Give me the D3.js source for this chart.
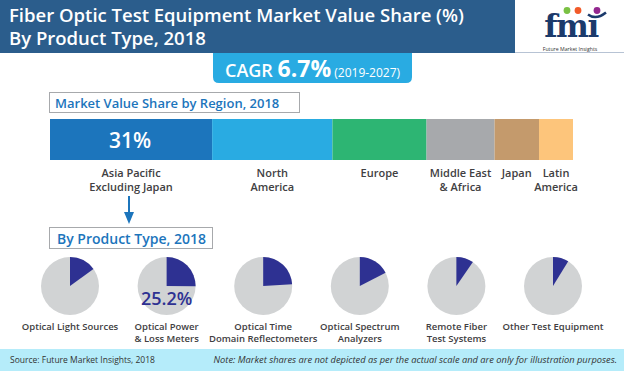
<!DOCTYPE html>
<html>
<head>
<meta charset="utf-8">
<script src="https://cdn.jsdelivr.net/npm/d3@7"></script>
<style>
  body { margin: 0; background: #fff; }
  svg { display: block; font-family: "Open Sans", sans-serif; }
</style>
</head>
<body>
<div id="chart"></div>
<script>
// region share (bar) - note says not to scale
var regions = ["Asia Pacific|Excluding Japan", "North|America", "Europe", "Middle East|& Africa", "Japan", "Latin|America"];
var regionShare = [31, 23, 18, 13, 8.5, 6.5];
var regionColors = ["#1c75bc", "#29abe2", "#2db573", "#a7a9ac", "#c49a6c", "#fdc57b"];

// product type pies
var products = ["Optical Light Sources", "Optical Power|& Loss Meters", "Optical Time|Domain Reflectometers", "Optical Spectrum|Analyzers", "Remote Fiber|Test Systems", "Other Test Equipment"];
var productShare = [15, 25.2, 24, 17.4, 9.6, 8.8];

var W = 624, H = 371;
var svg = d3.select("#chart").append("svg")
    .attr("width", W)
    .attr("height", H);

// header
svg.append("rect").attr("x", 0).attr("y", 0).attr("width", 515).attr("height", 53).attr("fill", "#2b5d8c");
svg.append("line").attr("x1", 515).attr("x2", W).attr("y1", 52.5).attr("y2", 52.5).attr("stroke", "#b7c3d4").attr("stroke-width", 1);
svg.append("text").attr("x", 9).attr("y", 22)
    .style("font-size", "18.5px").style("font-weight", 600).style("fill", "#fff")
    .text("Fiber Optic Test Equipment Market Value Share (%)");
svg.append("text").attr("x", 9).attr("y", 45)
    .style("font-size", "18.5px").style("font-weight", 600).style("fill", "#fff")
    .text("By Product Type, 2018");

// logo
var logo = svg.append("g");
logo.append("text").attr("x", 571).attr("y", 36.5).attr("text-anchor", "middle")
    .style("font-family", "'DejaVu Serif', serif").style("font-weight", "bold")
    .style("font-size", "31px").style("fill", "#1b3a6b").style("letter-spacing", "-1.5px")
    .text("fmi");
logo.append("rect").attr("x", 590).attr("y", 9).attr("width", 12).attr("height", 10).attr("fill", "#fff");
logo.append("circle").attr("cx", 567).attr("cy", 10.5).attr("r", 3.4).attr("fill", "#7ac143");
logo.append("circle").attr("cx", 578).attr("cy", 10.5).attr("r", 3.4).attr("fill", "#f15a29");
logo.append("circle").attr("cx", 597).attr("cy", 10.5).attr("r", 3.4).attr("fill", "#93278f");
logo.append("path").attr("d", "M588,14.5 Q596,20.5 606,12.5").attr("fill", "none").attr("stroke", "#1b3a6b").attr("stroke-width", 2.5);
logo.append("text").attr("x", 570).attr("y", 50.5).attr("text-anchor", "middle")
    .style("font-size", "5.2px").style("fill", "#333")
    .text("Future Market Insights");

// CAGR box
svg.append("path")
    .attr("d", "M213,53 H412 V77 Q412,83 406,83 H219 Q213,83 213,77 Z")
    .attr("fill", "#29abe2");
var cagr = svg.append("text").attr("x", 225).attr("y", 77).style("fill", "#fff");
cagr.append("tspan").style("font-size", "18px").style("font-weight", 600).text("CAGR ");
cagr.append("tspan").style("font-size", "23px").style("font-weight", "bold").text("6.7%");
cagr.append("tspan").style("font-size", "12px").text(" (2019-2027)");

// region title box
svg.append("rect").attr("x", 49.5).attr("y", 92.5).attr("width", 250).attr("height", 20)
    .attr("fill", "#fff").attr("stroke", "#a7a9ac");
svg.append("text").attr("x", 55).attr("y", 107.5)
    .style("font-size", "13px").style("font-weight", 600).style("fill", "#1c75bc")
    .text("Market Value Share by Region, 2018");

// stacked bar
var x = d3.scaleLinear().domain([0, d3.sum(regionShare)]).range([50, 573]);
var cum = d3.cumsum(regionShare);
var segs = regionShare.map(function (v, i) {
    return { name: regions[i], start: cum[i] - v, end: cum[i], value: v, color: regionColors[i] };
});
var barTop = 119, barH = 41;
svg.append("g").selectAll("rect").data(segs).enter().append("rect")
    .attr("x", function (d) { return x(d.start); })
    .attr("y", barTop)
    .attr("width", function (d) { return x(d.end) - x(d.start); })
    .attr("height", barH)
    .attr("fill", function (d) { return d.color; });

svg.append("text")
    .attr("x", (x(segs[0].start) + x(segs[0].end)) / 2 - 1)
    .attr("y", barTop + 29)
    .attr("text-anchor", "middle")
    .style("font-size", "21px").style("font-weight", 600).style("fill", "#fff")
    .text(segs[0].value + "%");

var labs = svg.append("g").selectAll("text").data(segs).enter().append("text")
    .attr("text-anchor", "middle")
    .attr("transform", function (d) { return "translate(" + ((x(d.start) + x(d.end)) / 2) + "," + (barTop + 58) + ")"; })
    .style("font-size", "11px").style("font-weight", 600).style("fill", "#414042");
labs.selectAll("tspan").data(function (d) { return d.name.split("|"); }).enter().append("tspan")
    .attr("x", 0).attr("dy", function (d, i) { return i ? 14 : 0; })
    .text(function (d) { return d; });

// arrow
svg.append("line").attr("x1", 129).attr("x2", 129).attr("y1", 196).attr("y2", 214)
    .attr("stroke", "#1c75bc").attr("stroke-width", 2);
svg.append("path").attr("d", "M124,212 L134,212 L129,224 Z").attr("fill", "#1c75bc");

// product title box
svg.append("rect").attr("x", 49.5).attr("y", 227.5).attr("width", 163).attr("height", 21)
    .attr("fill", "#fff").attr("stroke", "#a7a9ac");
svg.append("text").attr("x", 57).attr("y", 243.5)
    .style("font-size", "14px").style("font-weight", 600).style("fill", "#1c75bc")
    .text("By Product Type, 2018");

// pies
var px = d3.scalePoint().domain(products).range([70, 553]);
var pieY = 286, r = 29;
var arc = d3.arc().innerRadius(0).outerRadius(r);
var pies = svg.append("g").selectAll("g").data(products).enter().append("g")
    .attr("transform", function (d) { return "translate(" + px(d) + "," + pieY + ")"; });
pies.append("circle").attr("r", r).attr("fill", "#d1d3d4");
pies.append("path")
    .attr("d", function (d, i) { return arc({ startAngle: 0, endAngle: 2 * Math.PI * productShare[i] / 100 }); })
    .attr("fill", "#2e3192");
pies.filter(function (d, i) { return i === 1; }).append("text")
    .attr("y", 19).attr("text-anchor", "middle")
    .style("font-size", "18px").style("font-weight", 600).style("fill", "#2e3192")
    .text(function (d) { return productShare[products.indexOf(d)] + "%"; });

var plabs = pies.append("text").attr("text-anchor", "middle").attr("y", 44)
    .style("font-size", "9.5px").style("font-weight", 600).style("fill", "#414042");
plabs.selectAll("tspan").data(function (d) { return d.split("|"); }).enter().append("tspan")
    .attr("x", 0).attr("dy", function (d, i) { return i ? 11.5 : 0; })
    .text(function (d) { return d; });

// footer
svg.append("rect").attr("x", 0).attr("y", 349).attr("width", W).attr("height", H - 349).attr("fill", "#b5ecfa");
svg.append("text").attr("x", 10).attr("y", 363)
    .style("font-size", "8.5px").style("fill", "#333")
    .text("Source: Future Market Insights, 2018");
svg.append("text").attr("x", 617).attr("y", 363).attr("text-anchor", "end")
    .style("font-size", "9.3px").style("font-style", "italic").style("fill", "#333")
    .text("Note: Market shares are not depicted as per the actual scale and are only for illustration purposes.");
</script>
</body>
</html>
